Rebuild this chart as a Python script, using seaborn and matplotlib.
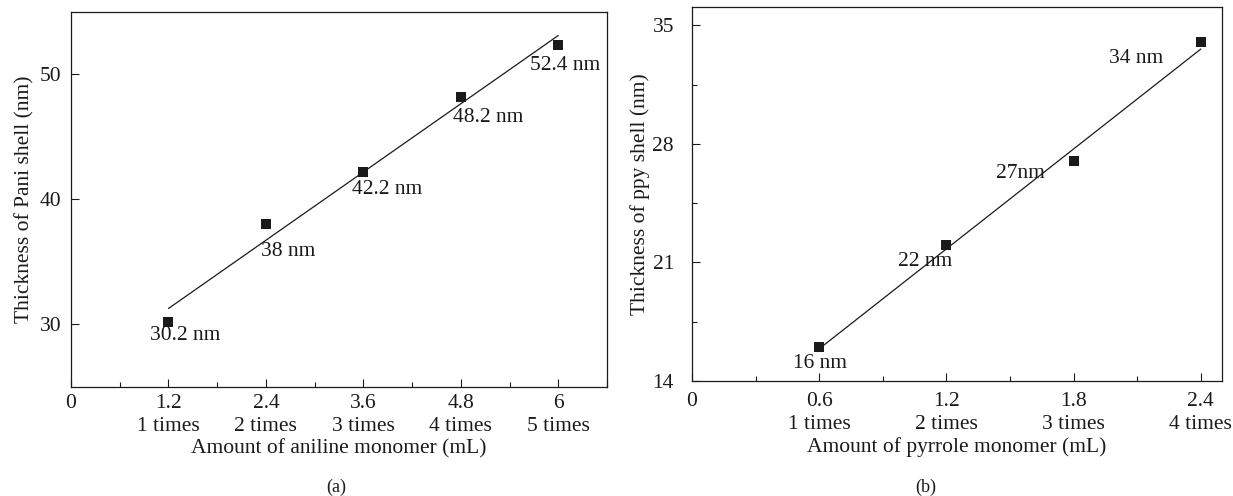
import numpy as np
import pandas as pd
import matplotlib
matplotlib.use("Agg")
import matplotlib.pyplot as plt
import seaborn as sns
from matplotlib.ticker import MultipleLocator

# ---- data ----
x_a = [1.2, 2.4, 3.6, 4.8, 6.0]
y_a = [30.2, 38.0, 42.2, 48.2, 52.4]
lab_a = ["30.2 nm", "38 nm", "42.2 nm", "48.2 nm", "52.4 nm"]
times_a = ["1 times", "2 times", "3 times", "4 times", "5 times"]
xt_a = ["1.2", "2.4", "3.6", "4.8", "6"]
yt_a = [30, 40, 50]

x_b = [0.6, 1.2, 1.8, 2.4]
y_b = [16.0, 22.0, 27.0, 34.0]
lab_b = ["16 nm", "22 nm", "27nm", "34 nm"]
times_b = ["1 times", "2 times", "3 times", "4 times"]
xt_b = ["0.6", "1.2", "1.8", "2.4"]
yt_b = [14, 21, 28, 35]

# label offsets (pixels, relative to each point): positions, not data
off_a = [(-18, -14), (-5, -27), (-11, -18), (-8, -21), (-28, -21)]
off_b = [(-26, -16), (-48, -16), (-78, -13), (-92, -16)]

sns.set_style("ticks")
plt.rcParams["font.family"] = ["Liberation Serif", "DejaVu Serif"]
FS = 15.5
INK = "#1a1a1a"

fig = plt.figure(figsize=(12.33, 4.96), dpi=100)
ax_a = fig.add_axes([0.0576, 0.2198, 0.4347, 0.756])
ax_b = fig.add_axes([0.5612, 0.2319, 0.4299, 0.7546])


def draw(ax, xs, ys, labs, offs, xt, times, yt, xlim, ylim, xminor, yminor,
         xlabel, ylabel, xpad, ypad, xlpad, ylpad):
    df = pd.DataFrame({"x": xs, "y": ys})
    sns.regplot(data=df, x="x", y="y", ax=ax, scatter=False, ci=None,
                line_kws=dict(color=INK, lw=0.9))
    sns.scatterplot(data=df, x="x", y="y", ax=ax, marker="s", s=48,
                    color=INK, edgecolor=INK, linewidth=0, zorder=3)
    for xv, yv, lb, (dx, dy) in zip(xs, ys, labs, offs):
        ax.annotate(lb, (xv, yv), xytext=(dx, dy), textcoords="offset pixels",
                    ha="left", va="center", fontsize=FS, color=INK)
    ax.set_xlim(*xlim)
    ax.set_ylim(*ylim)
    ax.set_xticks([0] + list(xs))
    ax.set_xticklabels(["0"] + [f"{a}\n{b}" for a, b in zip(xt, times)],
                       fontsize=FS, linespacing=1.3)
    ax.set_yticks(yt)
    ax.set_yticklabels([str(v) for v in yt], fontsize=FS)
    ax.xaxis.set_minor_locator(MultipleLocator(xminor))
    if yminor:
        ax.yaxis.set_minor_locator(MultipleLocator(yminor))
    ax.tick_params(which="major", direction="in", length=6, width=0.8,
                   colors=INK, labelcolor=INK)
    ax.tick_params(which="minor", direction="in", length=3.5, width=0.8, colors=INK)
    ax.tick_params(axis="x", which="major", pad=xpad)
    ax.tick_params(axis="y", which="major", pad=ypad)
    for s in ax.spines.values():
        s.set_visible(True)
        s.set_linewidth(0.9)
        s.set_color(INK)
    ax.set_xlabel(xlabel, fontsize=FS, labelpad=xlpad, color=INK)
    ax.set_ylabel(ylabel, fontsize=FS, labelpad=ylpad, color=INK)


draw(ax_a, x_a, y_a, lab_a, off_a, xt_a, times_a, yt_a, (0, 6.6), (25, 55), 0.6, None,
     "Amount of aniline monomer (mL)", "Thickness of Pani shell (nm)",
     xpad=5, ypad=7, xlpad=2, ylpad=3.5)
draw(ax_b, x_b, y_b, lab_b, off_b, xt_b, times_b, yt_b, (0, 2.5), (14, 36.1), 0.3, 3.5,
     "Amount of pyrrole monomer (mL)", "Thickness of ppy shell (nm)",
     xpad=8, ypad=13, xlpad=2, ylpad=1.5)

fig.text(336 / 1233, 1 - 487 / 496, "(a)", ha="center", va="center", fontsize=13, color=INK)
fig.text(926 / 1233, 1 - 487 / 496, "(b)", ha="center", va="center", fontsize=13, color=INK)

fig.savefig("out.png", dpi=100)
